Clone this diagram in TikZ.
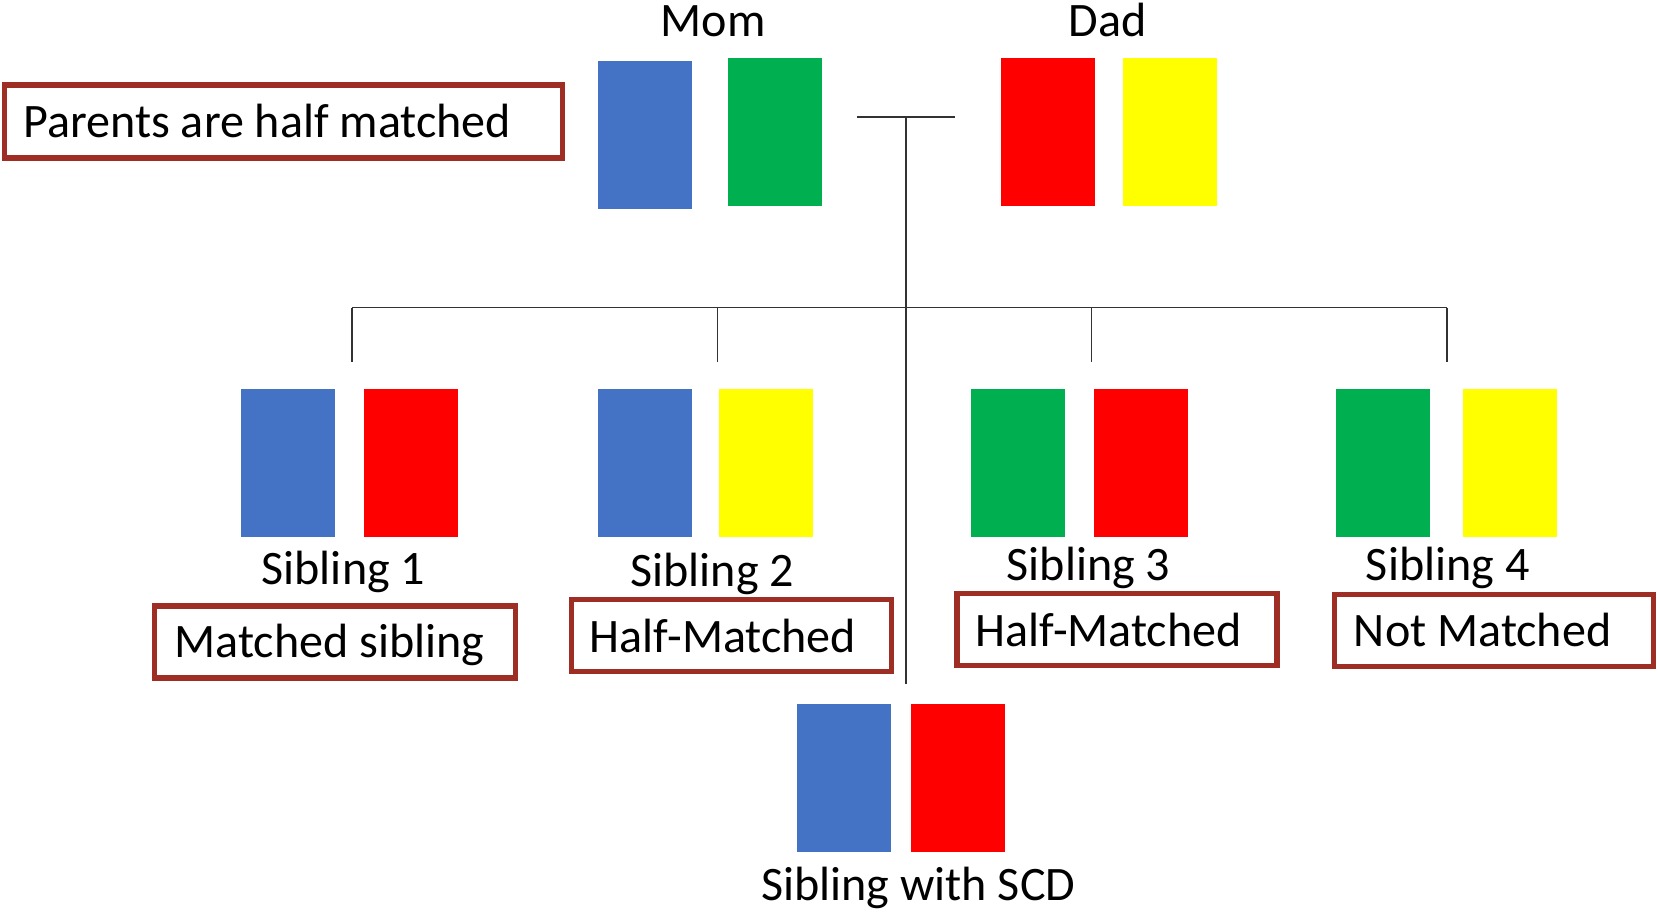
\documentclass[tikz,border=0pt]{standalone}
\usepackage{fontspec}
\setmainfont{Carlito}
\definecolor{cblue}{HTML}{4472C4}
\definecolor{cgreen}{HTML}{00B050}
\definecolor{cred}{HTML}{FF0000}
\definecolor{cyellow}{HTML}{FFFF00}
\definecolor{boxred}{RGB}{158,46,36}
\definecolor{linegray}{RGB}{50,50,50}
\begin{document}
\begin{tikzpicture}[x=1pt,y=-1pt,
  chrom/.style={inner sep=0pt, minimum width=89pt, minimum height=140pt, draw=none},
  lbox/.style={draw=boxred, line width=5pt, inner sep=0pt},
  lbl/.style={font=\fontsize{45.5}{52}\selectfont, inner sep=0pt},
  conn/.style={draw=linegray, line width=1.6pt}]
\useasboundingbox (0,0) rectangle (1568,864);
\fill[white] (0,0) rectangle (1568,864);

% parents
\node[chrom, fill=cblue] (momA) at (610.5,127.5) {};
\node[chrom, fill=cgreen] (momB) at (733.5,125) {};
\node[chrom, fill=cred] (dadA) at (991.5,125) {};
\node[chrom, fill=cyellow] (dadB) at (1107.5,125) {};
\node[lbl, anchor=base] (mom) at (675,35) {Mom};
\node[lbl, anchor=base] (dad) at (1048,35) {Dad};

% siblings
\node[chrom, fill=cblue] (s1a) at (272.5,438) {};
\node[chrom, fill=cred] (s1b) at (388.5,438) {};
\node[chrom, fill=cblue] (s2a) at (610.5,438) {};
\node[chrom, fill=cyellow] (s2b) at (724.5,438) {};
\node[chrom, fill=cgreen] (s3a) at (963,438) {};
\node[chrom, fill=cred] (s3b) at (1079.5,438) {};
\node[chrom, fill=cgreen] (s4a) at (1308.5,438) {};
\node[chrom, fill=cyellow] (s4b) at (1428.5,438) {};
\node[lbl, anchor=base] (sib1) at (325,553) {Sibling 1};
\node[lbl, anchor=base] (sib2) at (674,555) {Sibling 2};
\node[lbl, anchor=base] (sib3) at (1030,549) {Sibling 3};
\node[lbl, anchor=base] (sib4) at (1370,549) {Sibling 4};

% sibling with SCD
\node[chrom, fill=cblue] (scdA) at (798.5,736.5) {};
\node[chrom, fill=cred] (scdB) at (906.5,736.5) {};
\node[lbl, anchor=base] (scd) at (869,852) {Sibling with SCD};

% connector points
\coordinate (tl) at (811,111);
\coordinate (tr) at (904,111);
\coordinate (tm) at (857,111);
\coordinate (tend) at (857,647);
\coordinate (b1) at (333,291);
\coordinate (b2) at (679,291);
\coordinate (b3) at (1033,291);
\coordinate (b4) at (1369,291);
\coordinate (d1) at (333,343);
\coordinate (d2) at (679,343);
\coordinate (d3) at (1033,343);
\coordinate (d4) at (1369,343);
\draw[conn] (tl) -- (tr);
\draw[conn] (tm) -- (tend);
\draw[conn] (b1) -- (b4);
\draw[conn] (b1) -- (d1);
\draw[conn] (b2) -- (d2);
\draw[conn] (b3) -- (d3);
\draw[conn] (b4) -- (d4);

% label boxes
\node[lbox, minimum width=528pt, minimum height=69pt] (pbox) at (268.5,115) {};
\node[lbl, anchor=base west] (ptext) at (22,130) {Parents are half matched};
\node[lbox, minimum width=341pt, minimum height=68pt] (box1) at (317,607.5) {};
\node[lbl, anchor=base west] (t1) at (165,622) {Matched sibling};
\node[lbox, minimum width=303pt, minimum height=68pt] (box2) at (692,601.5) {};
\node[lbl, anchor=base west] (t2) at (558,617) {Half-Matched};
\node[lbox, minimum width=303pt, minimum height=68pt] (box3) at (1057,595.5) {};
\node[lbl, anchor=base west] (t3) at (923,612) {Half-Matched};
\node[lbox, minimum width=302pt, minimum height=68pt] (box4) at (1413.5,596.5) {};
\node[lbl, anchor=base west] (t4) at (1281,612) {Not Matched};
\end{tikzpicture}
\end{document}
